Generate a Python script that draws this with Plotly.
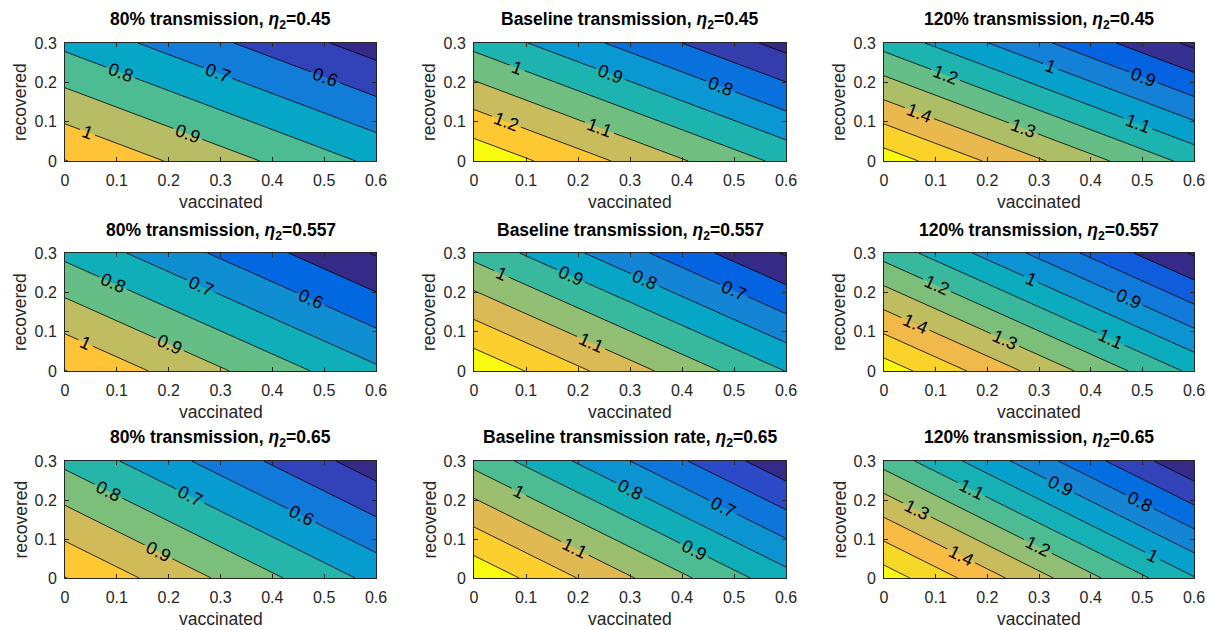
import numpy as np
import plotly.graph_objects as go

# ---------------- data ----------------
vaccinated = [0.0, 0.6]          # x grid (domain end points)
recovered = [0.0, 0.3]           # y grid (domain end points)

panel_titles = [
    "80% transmission, <i>η</i><sub>2</sub>=0.45",
    "Baseline transmission, <i>η</i><sub>2</sub>=0.45",
    "120% transmission, <i>η</i><sub>2</sub>=0.45",
    "80% transmission, <i>η</i><sub>2</sub>=0.557",
    "Baseline transmission, <i>η</i><sub>2</sub>=0.557",
    "120% transmission, <i>η</i><sub>2</sub>=0.557",
    "80% transmission, <i>η</i><sub>2</sub>=0.65",
    "Baseline transmission rate, <i>η</i><sub>2</sub>=0.65",
    "120% transmission, <i>η</i><sub>2</sub>=0.65",
]

# R value at (vaccinated=0, recovered=0)
R_origin = [1.103, 1.378, 1.654, 1.103, 1.378, 1.654, 1.103, 1.378, 1.654]
# R value at (vaccinated=0.6, recovered=0)
R_vacc_end = [0.779, 0.973, 1.168, 0.719, 0.898, 1.078, 0.671, 0.838, 1.006]
# R value at (vaccinated=0, recovered=0.3)
R_rec_end = [0.776, 0.970, 1.164, 0.776, 0.970, 1.164, 0.776, 0.970, 1.164]
# R value at (vaccinated=0.6, recovered=0.3)
R_far_corner = [0.452, 0.565, 0.678, 0.392, 0.490, 0.588, 0.344, 0.430, 0.516]

x_ticks = [0, 0.1, 0.2, 0.3, 0.4, 0.5, 0.6]
y_ticks = [0, 0.1, 0.2, 0.3]
level_step = 0.1

# ---------------- style ----------------
PARULA = [
    (0.2081, 0.1663, 0.5292), (0.2116, 0.1898, 0.5777), (0.2123, 0.2138, 0.6270), (0.2081, 0.2386, 0.6771),
    (0.1959, 0.2645, 0.7279), (0.1707, 0.2919, 0.7792), (0.1253, 0.3242, 0.8303), (0.0591, 0.3598, 0.8683),
    (0.0117, 0.3875, 0.8820), (0.0060, 0.4086, 0.8828), (0.0165, 0.4266, 0.8786), (0.0329, 0.4430, 0.8720),
    (0.0498, 0.4586, 0.8641), (0.0629, 0.4737, 0.8554), (0.0723, 0.4887, 0.8467), (0.0779, 0.5040, 0.8384),
    (0.0793, 0.5200, 0.8312), (0.0749, 0.5375, 0.8263), (0.0641, 0.5570, 0.8240), (0.0488, 0.5772, 0.8228),
    (0.0343, 0.5966, 0.8199), (0.0265, 0.6137, 0.8135), (0.0239, 0.6287, 0.8038), (0.0231, 0.6418, 0.7913),
    (0.0228, 0.6535, 0.7768), (0.0267, 0.6642, 0.7607), (0.0384, 0.6743, 0.7436), (0.0590, 0.6838, 0.7254),
    (0.0843, 0.6928, 0.7062), (0.1133, 0.7015, 0.6859), (0.1453, 0.7098, 0.6646), (0.1801, 0.7177, 0.6424),
    (0.2178, 0.7250, 0.6193), (0.2586, 0.7317, 0.5954), (0.3022, 0.7376, 0.5712), (0.3482, 0.7424, 0.5473),
    (0.3953, 0.7459, 0.5244), (0.4420, 0.7481, 0.5033), (0.4871, 0.7491, 0.4840), (0.5300, 0.7491, 0.4661),
    (0.5709, 0.7485, 0.4494), (0.6099, 0.7473, 0.4337), (0.6473, 0.7456, 0.4188), (0.6834, 0.7435, 0.4044),
    (0.7184, 0.7411, 0.3905), (0.7525, 0.7384, 0.3768), (0.7858, 0.7356, 0.3633), (0.8185, 0.7327, 0.3498),
    (0.8507, 0.7299, 0.3360), (0.8824, 0.7274, 0.3217), (0.9139, 0.7258, 0.3063), (0.9450, 0.7261, 0.2886),
    (0.9739, 0.7314, 0.2666), (0.9938, 0.7455, 0.2403), (0.9990, 0.7653, 0.2164), (0.9955, 0.7861, 0.1967),
    (0.9880, 0.8066, 0.1794), (0.9789, 0.8271, 0.1633), (0.9697, 0.8481, 0.1475), (0.9626, 0.8705, 0.1309),
    (0.9589, 0.8949, 0.1132), (0.9598, 0.9218, 0.0948), (0.9661, 0.9514, 0.0755), (0.9763, 0.9831, 0.0538),
]


def parula_rgb(f):
    idx = int(np.clip(np.floor(f * len(PARULA)), 0, len(PARULA) - 1))
    r, g, b = PARULA[idx]
    return f"rgb({round(r*255)},{round(g*255)},{round(b*255)})"


W, H = 1207, 630
col_px = [(65, 376), (474, 786), (884, 1194)]
row_px = [(43, 161), (253, 371), (461, 578)]

FONT = "Liberation Sans, Arial, Helvetica, sans-serif"
AXCOL = "#262626"

fig = go.Figure()
annotations = []

for i in range(9):
    r, c = divmod(i, 3)
    z = [[R_origin[i], R_vacc_end[i]],
         [R_rec_end[i], R_far_corner[i]]]
    zmin = min(min(row) for row in z)
    zmax = max(max(row) for row in z)
    k_first = int(np.floor(zmin / level_step + 1e-9)) + 1
    k_last = int(np.ceil(zmax / level_step - 1e-9)) - 1
    levels = [k * level_step for k in range(k_first, k_last + 1)]
    nc = len(levels)
    lmax = levels[-1]
    band_colors = [parula_rgb(0.0)] + [parula_rgb((L - zmin) / (lmax - zmin)) for L in levels]
    colorscale = [[j / nc, band_colors[j]] for j in range(nc + 1)]

    sfx = "" if i == 0 else str(i + 1)
    fig.add_trace(go.Contour(
        x=vaccinated, y=recovered, z=z,
        autocontour=False,
        contours=dict(start=levels[0], end=levels[-1], size=level_step,
                      coloring="fill", showlabels=True,
                      labelfont=dict(size=18, color="black", family=FONT)),
        colorscale=colorscale, showscale=False,
        line=dict(color="black", width=0.8),
        hoverinfo="skip",
        xaxis="x" + sfx, yaxis="y" + sfx,
    ))

    x0, x1 = col_px[c]
    y0, y1 = row_px[r]
    axis_common = dict(showline=True, linecolor=AXCOL, linewidth=1, mirror="allticks",
                       ticks="inside", ticklen=4, tickcolor=AXCOL, tickwidth=1,
                       showgrid=False, zeroline=False,
                       tickfont=dict(size=16, color=AXCOL, family=FONT))
    fig.layout["xaxis" + sfx] = dict(domain=[x0 / W, x1 / W], range=[0, 0.6],
                                     tickvals=x_ticks, anchor="y" + sfx,
                                     ticklabelstandoff=5, **axis_common)
    fig.layout["yaxis" + sfx] = dict(domain=[1 - y1 / H, 1 - y0 / H], range=[0, 0.3],
                                     tickvals=y_ticks, anchor="x" + sfx,
                                     ticklabelstandoff=4, **axis_common)

    annotations.append(dict(text="<b>" + panel_titles[i] + "</b>", showarrow=False,
                            xref=f"x{sfx} domain", yref=f"y{sfx} domain", x=0.5, y=1,
                            yanchor="middle", yshift=22,
                            font=dict(size=17.5, color="black", family=FONT)))
    annotations.append(dict(text="vaccinated", showarrow=False,
                            xref=f"x{sfx} domain", yref=f"y{sfx} domain", x=0.5, y=0,
                            yanchor="middle", yshift=-41,
                            font=dict(size=17.5, color=AXCOL, family=FONT)))
    annotations.append(dict(text="recovered", showarrow=False, textangle=-90,
                            xref=f"x{sfx} domain", yref=f"y{sfx} domain", x=0, y=0.5,
                            xanchor="center", xshift=-45,
                            font=dict(size=17.5, color=AXCOL, family=FONT)))

fig.update_layout(width=W, height=H,
                  margin=dict(l=0, r=0, t=0, b=0, pad=0, autoexpand=False),
                  paper_bgcolor="white", plot_bgcolor="white",
                  showlegend=False, annotations=annotations)

fig.write_html("out.html", config={"displayModeBar": False},
               post_script="document.body.style.margin='0px';document.body.style.padding='0px';")
